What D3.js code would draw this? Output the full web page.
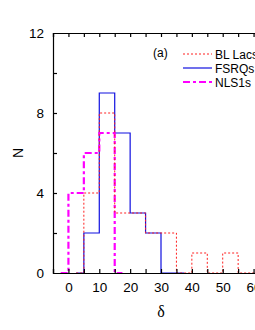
<!DOCTYPE html>
<html>
<head>
<meta charset="utf-8">
<script src="https://cdn.jsdelivr.net/npm/d3@7"></script>
<style>
body { margin: 0; background: #fff; }
svg { display: block; font-family: "Liberation Sans", Arial, sans-serif; }
</style>
</head>
<body>
<svg id="chart" width="255" height="330"></svg>
<script>
// bin centres (width 5) and counts per class
var blCentres = [2.5, 7.5, 12.5, 17.5, 22.5, 27.5, 32.5, 37.5, 42.5, 47.5, 52.5, 57.5, 62.5];
var blCounts  = [0, 4, 8, 3, 3, 2, 2, 0, 1, 0, 1, 0, 0];
var fsCentres = [2.5, 7.5, 12.5, 17.5, 22.5, 27.5, 32.5, 37.5];
var fsCounts  = [0, 2, 9, 7, 3, 2, 0, 0];
var nlCentres = [-2.5, 2.5, 7.5, 12.5, 17.5];
var nlCounts  = [0, 4, 6, 7, 0];
var xTicks = [0, 10, 20, 30, 40, 50, 60];
var yTicks = [0, 4, 8, 12];

var svg = d3.select("#chart");
var pLeft = 53, pTop = 33, pBottom = 273, pRight = 269;

var x = d3.scaleLinear().domain([-5, 65]).range([pLeft, pRight]);
var y = d3.scaleLinear().domain([0, 12]).range([pBottom, pTop]);

function pts(cs, ns) {
  return cs.map(function (c, i) { return [c, ns[i]]; });
}

var line = d3.line()
  .x(function (d) { return x(d[0]); })
  .y(function (d) { return y(d[1]); })
  .curve(d3.curveStep);

var series = [
  { name: "BL Lacs", data: pts(blCentres, blCounts), color: "#ff2020", width: 1, dash: "2,2", z: 2 },
  { name: "FSRQs", data: pts(fsCentres, fsCounts), color: "#1010e0", width: 1.2, dash: null, z: 0 },
  { name: "NLS1s", data: pts(nlCentres, nlCounts), color: "#ff00ff", width: 2.2, dash: "7,3,3,3", z: 1 }
];

// draw order: blue, magenta, red on top
svg.selectAll("path.series")
  .data(series.slice().sort(function (a, b) { return a.z - b.z; }))
  .enter().append("path")
  .attr("class", "series")
  .attr("d", function (d) { return line(d.data); })
  .attr("fill", "none")
  .attr("stroke", function (d) { return d.color; })
  .attr("stroke-width", function (d) { return d.width; })
  .attr("stroke-dasharray", function (d) { return d.dash; });

// axes, ticks inward on all four sides
var minorX = d3.range(-5, 66, 5);
var minorY = d3.range(0, 13, 2);

var bAx = svg.append("g").attr("transform", "translate(0," + pBottom + ")")
  .call(d3.axisBottom(x).tickValues(minorX).tickSize(-4)
    .tickFormat(function (d) { return xTicks.indexOf(d) >= 0 ? d : ""; }).tickPadding(9));
var tAx = svg.append("g").attr("transform", "translate(0," + pTop + ")")
  .call(d3.axisTop(x).tickValues(minorX).tickSize(-4).tickFormat(""));
var lAx = svg.append("g").attr("transform", "translate(" + pLeft + ",0)")
  .call(d3.axisLeft(y).tickValues(minorY).tickSize(-4)
    .tickFormat(function (d) { return yTicks.indexOf(d) >= 0 ? d : ""; }).tickPadding(9));
var rAx = svg.append("g").attr("transform", "translate(" + pRight + ",0)")
  .call(d3.axisRight(y).tickValues(minorY).tickSize(-4).tickFormat(""));

[bAx, tAx, lAx, rAx].forEach(function (g) {
  g.select(".domain").attr("stroke", "#000").attr("stroke-width", 1.2);
  g.selectAll(".tick line").attr("stroke", "#000").attr("stroke-width", 1.2);
  g.selectAll("text").attr("font-size", 13.5).attr("fill", "#000")
    .attr("font-family", "Liberation Sans, Arial, sans-serif");
});
lAx.selectAll(".tick").filter(function (d) { return d === 0 || d === 12; })
  .select("line").attr("stroke-opacity", 0);

svg.append("text")
  .attr("transform", "translate(23," + ((pTop + pBottom) / 2) + ") rotate(-90)")
  .attr("text-anchor", "middle")
  .attr("font-size", 14)
  .text("N");

svg.append("text")
  .attr("x", x(30)).attr("y", 317)
  .attr("text-anchor", "middle")
  .attr("font-family", "Liberation Serif, Times New Roman, serif")
  .attr("font-size", 16)
  .text("δ");

svg.append("text")
  .attr("x", 153).attr("y", 57)
  .attr("font-size", 12)
  .text("(a)");

var leg = svg.selectAll("g.leg")
  .data(series)
  .enter().append("g")
  .attr("class", "leg")
  .attr("transform", function (d, i) { return "translate(183," + (54 + i * 14) + ")"; });
leg.append("line")
  .attr("x1", 0).attr("x2", 29)
  .attr("stroke", function (d) { return d.color; })
  .attr("stroke-width", function (d) { return d.width; })
  .attr("stroke-dasharray", function (d) { return d.dash; });
leg.append("text")
  .attr("x", 32).attr("y", 4.5)
  .attr("font-size", 12)
  .text(function (d) { return d.name; });
</script>
</body>
</html>
